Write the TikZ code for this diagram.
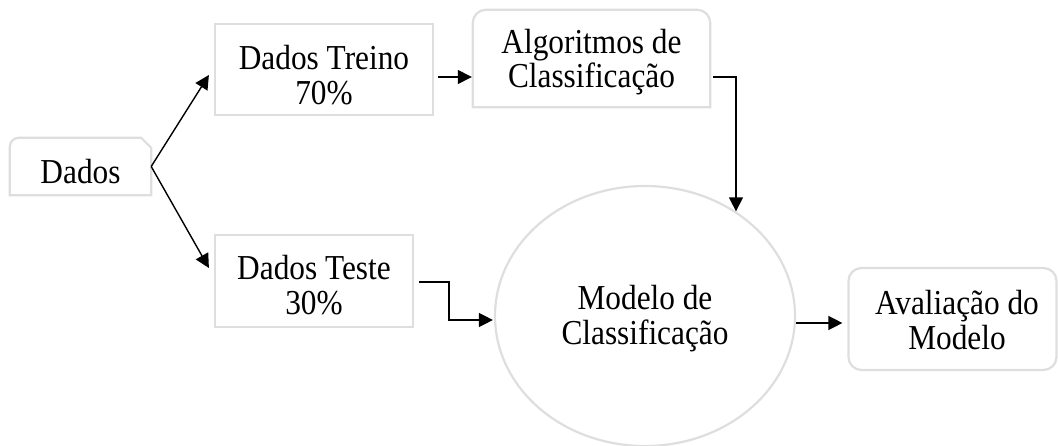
\documentclass[tikz,border=0pt]{standalone}
\usepackage{fontspec}
\usepackage{graphicx}
\setmainfont[FakeStretch=0.895]{Liberation Serif}
\usetikzlibrary{shapes.geometric,arrows.meta,calc}
\definecolor{boxgray}{HTML}{DEDEDE}
% one line of text, lowered by #1, taking no vertical room of its own
\newcommand\tline[2]{\raisebox{-#1}[0pt][0pt]{#2}}
\begin{document}
\begin{tikzpicture}[x=1pt,y=-1pt,
  txt/.style={inner sep=0pt, align=center, font=\fontsize{35pt}{34.5pt}\selectfont},
  box/.style={txt, draw=boxgray, line width=2.2pt},
  outline/.style={draw=boxgray, line width=2.2pt},
  link/.style={line width=1.4pt, -{Triangle[length=14pt,width=14pt]}}]
\useasboundingbox (0,0) rectangle (1058,446);

% boxes
\node[txt, minimum width=141pt, minimum height=57pt] (dados) at (80.5,166.5)
  {\tline{17.5pt}{Dados}};
\draw[outline] (dados.south west) [rounded corners=9pt] -- (dados.north west) [sharp corners]
  -- ([xshift=-10pt]dados.north east) -- ([yshift=-10pt]dados.north east)
  -- (dados.south east) -- cycle;

\node[box, minimum width=218pt, minimum height=91pt] (treino) at (324,69.5)
  {\tline{17.5pt}{Dados Treino}\\\tline{17.5pt}{70\%}};

\node[txt, minimum width=237pt, minimum height=97pt] (algo) at (591.5,58.5)
  {\tline{12pt}{Algoritmos de}\\\tline{12pt}{Classificação}};
\draw[outline] (algo.south west) [rounded corners=13pt] -- (algo.north west)
  -- (algo.north east) [sharp corners] -- (algo.south east) -- cycle;

\node[box, minimum width=198pt, minimum height=92pt] (teste) at (314,281)
  {\tline{16pt}{Dados Teste}\\\tline{16pt}{30\%}};

\node[box, ellipse, minimum width=300pt, minimum height=260pt] (model) at (645,316)
  {\tline{11pt}{Modelo de}\\\tline{11pt}{Classificação}};

\node[box, rounded corners=13pt, minimum width=208pt, minimum height=102pt] (aval) at (952.5,319)
  {\tline{13pt}{\hspace*{9pt}Avaliação do}\\\tline{13pt}{\hspace*{9pt}Modelo}};

% connectors
\draw[link] (dados.east) -- ($(treino.west)+(-5,5.5)$);
\draw[link] (dados.east) -- ($(teste.west)+(-5,-13)$);
\draw[link] ($(treino.east)+(4,7.5)$) -- ($(algo.west)+(-1,18.5)$);
\draw[link] ($(algo.east)+(3,18.5)$) -| (model.49);
\draw[link] ($(teste.east)+(5,1)$) -- ++(30,0) |- ($(model.west)+(-1,4)$);
\draw[link] ($(model.east)+(0,7)$) -- ($(aval.west)+(-5,4)$);
\end{tikzpicture}
\end{document}
